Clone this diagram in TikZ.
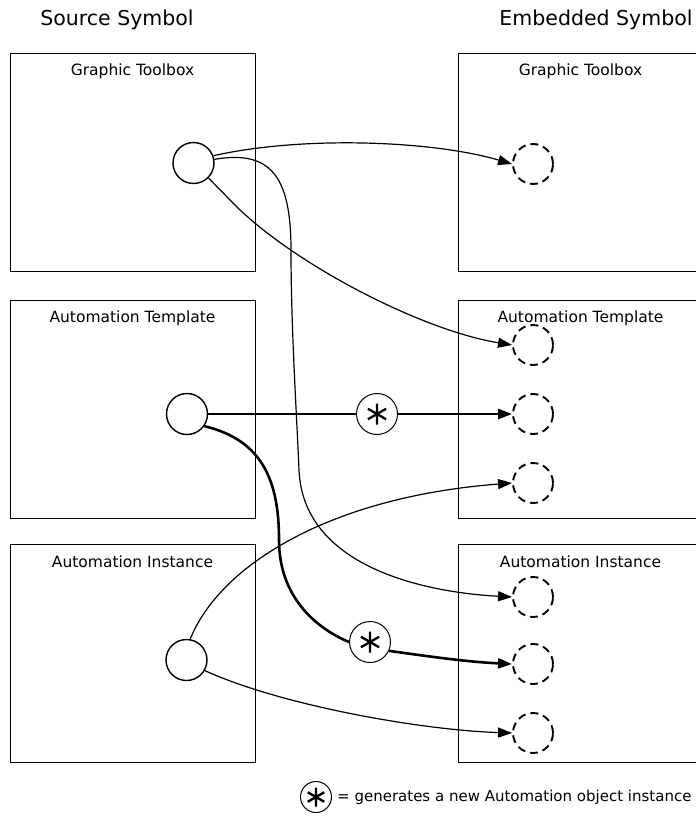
\documentclass[tikz,border=0pt]{standalone}
\usepackage{fontspec}
\setmainfont{DejaVu Sans}
\usetikzlibrary{arrows.meta}
\begin{document}
\begin{tikzpicture}[x=1pt,y=-1pt,
  box/.style={draw, line width=1.2pt, minimum width=245pt, minimum height=218pt, anchor=north west, inner sep=0pt},
  lbl/.style={font=\fontsize{15.5}{18}\selectfont, inner sep=0pt, anchor=center},
  ttl/.style={font=\fontsize{20.5}{24}\selectfont, inner sep=0pt, anchor=center},
  src/.style={draw, circle, line width=1.4pt, minimum size=41pt, inner sep=0pt},
  dst/.style={draw, circle, line width=1.9pt, dash pattern=on 8pt off 5pt, minimum size=40pt, inner sep=0pt},
  ast/.style={draw, circle, line width=1pt, minimum size=41pt, inner sep=0pt},
  astl/.style={line width=2.3pt},
  tip/.style={-{Triangle[length=14pt,width=10pt]}},
  thinc/.style={line width=1.2pt},
  thickc/.style={line width=2.6pt}
]
\useasboundingbox (0,0) rectangle (696,825);

% titles
\node[ttl] (t1) at (117,20) {Source Symbol};
\node[ttl] (t2) at (596,20) {Embedded Symbol};

% boxes
\node[box] (L1) at (10,53) {};
\node[box] (L2) at (10,300) {};
\node[box] (L3) at (10,544) {};
\node[box] (R1) at (458,53) {};
\node[box] (R2) at (458,300) {};
\node[box] (R3) at (458,544) {};

\node[lbl] (l1) at (132.5,71) {Graphic Toolbox};
\node[lbl] (l2) at (132.5,318) {Automation Template};
\node[lbl] (l3) at (132.5,562) {Automation Instance};
\node[lbl] (r1) at (580.5,71) {Graphic Toolbox};
\node[lbl] (r2) at (580.5,318) {Automation Template};
\node[lbl] (r3) at (580.5,562) {Automation Instance};

% source circles
\node[src] (s1) at (193.5,163) {};
\node[src] (s2) at (187,414) {};
\node[src] (s3) at (186.5,660) {};

% destination circles
\node[dst] (d1) at (533,164) {};
\node[dst] (d2) at (533,345) {};
\node[dst] (d3) at (533,414) {};
\node[dst] (d4) at (533,483) {};
\node[dst] (d5) at (533,597) {};
\node[dst] (d6) at (533,664) {};
\node[dst] (d7) at (533,733) {};

% asterisk circles
\node[ast] (a1) at (377,414) {};
\node[ast] (a2) at (370,642) {};
\node[ast, minimum size=31pt] (a3) at (316,797) {};
\foreach \n/\r in {a1/10.5,a2/10.5,a3/9.5}{
  \draw[astl, shift={(\n.center)}] (90:\r) -- (270:\r) (30:\r) -- (210:\r) (150:\r) -- (330:\r);
}
\node[anchor=west, inner sep=0pt, font=\fontsize{15}{18}\selectfont] (leg) at (337,797) {= generates a new Automation object instance};

% connectors
\draw[thinc, tip] (s1.20) .. controls (300,136) and (430,140) .. (d1.west);
\draw[thinc, tip] (s1.10) .. controls (270,150) and (291,175) .. (291,250)
   .. controls (291,330) and (297,420) .. (299,470)
   .. controls (303,565) and (420,592) .. (d5.west);
\draw[thinc, tip] (s1.-45) -- (232,202) .. controls (290,262) and (420,330) .. (d2.west);
\draw[thickc] (s2.east) -- (a1.west);
\draw[thickc, tip] (a1.east) -- (d3.west);
\draw[thickc] (s2.-35) .. controls (262,440) and (279,480) .. (279,540)
   .. controls (279,600) and (320,630) .. (a2.west);
\draw[thickc, tip] (a2.-25) .. controls (440,658) and (470,662) .. (d6.west);
\draw[thinc, tip] (s3.80) .. controls (220,565) and (330,497) .. (d4.west);
\draw[thinc, tip] (s3.-30) .. controls (280,705) and (420,730) .. (d7.west);
\end{tikzpicture}
\end{document}
